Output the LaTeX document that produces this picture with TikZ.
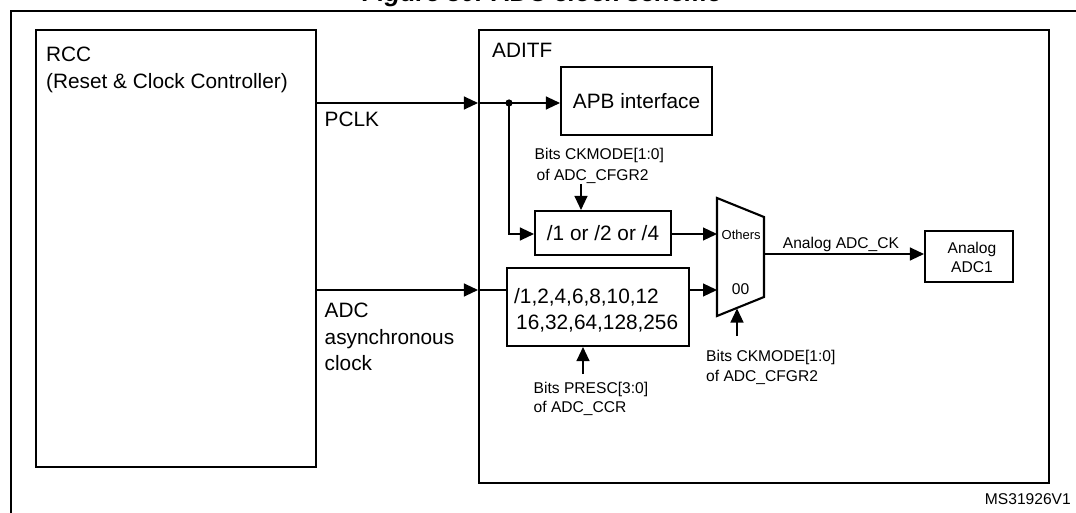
\documentclass[tikz,border=0pt]{standalone}
\usepackage{fontspec}
\setmainfont{Liberation Sans}
\usetikzlibrary{arrows.meta}
\begin{document}
\begin{tikzpicture}[x=1pt,y=-1pt,
  box/.style={draw,line width=2.1pt,inner sep=0pt},
  big/.style={font=\fontsize{20.8}{25}\selectfont,inner sep=0pt},
  small/.style={font=\fontsize{15.6}{19}\selectfont,inner sep=0pt},
  tiny/.style={font=\fontsize{13}{16}\selectfont,inner sep=0pt},
  conn/.style={line width=1.2pt,-{Triangle[length=14pt,width=13pt]}},
  wire/.style={line width=1.2pt},
  ]
\useasboundingbox (0,0) rectangle (1076,513);
% title (cut by the page edge, as in the reference)
\node[anchor=base,inner sep=0pt,font=\bfseries\itshape\fontsize{25.5}{30}\selectfont] (title) at (542,2) {Figure 30. ADC clock scheme};
% outer frame
\draw[line width=2pt] (11,513) -- (11,11) -- (1076,11);

% boxes
\node[box,minimum width=280pt,minimum height=437pt] (rcc) at (176,248.5) {};
\node[box,minimum width=570pt,minimum height=453pt] (aditf) at (764,256.5) {};
\node[box,minimum width=151pt,minimum height=68pt,big] (apb) at (636.5,101) {APB interface};
\node[box,minimum width=136pt,minimum height=44pt,big] (div) at (603,233) {/1 or /2 or /4};
\node[box,minimum width=182pt,minimum height=78pt] (presc) at (598,307) {};
\node[box,minimum width=88pt,minimum height=51pt] (adc1) at (969,256.5) {};

% multiplexer
\coordinate (mtl) at (717,198);
\coordinate (mtr) at (764,217);
\coordinate (mbr) at (764,297);
\coordinate (mbl) at (717,316);
\draw[line width=2.1pt,line join=miter] (mtl) -- (mtr) -- (mbr) -- (mbl) -- cycle;
\coordinate (muxin1) at (717,234);
\coordinate (muxin2) at (717,290);
\coordinate (muxout) at (764,254);
\coordinate (muxsel) at (737,308.5);

% texts
\node[big,anchor=base west] (rcct1) at (46,61.7) {RCC};
\node[big,anchor=base west] (rcct2) at (46,88.3) {(Reset \& Clock Controller)};
\node[big,anchor=base west] (aditft) at (492,57.7) {ADITF};
\node[big,anchor=base west] (pclkt) at (324.5,126.3) {PCLK};
\node[big,anchor=base west] (adct1) at (324.5,317.7) {ADC};
\node[big,anchor=base west] (adct2) at (324.5,344.3) {asynchronous};
\node[big,anchor=base west] (adct3) at (324.5,370.9) {clock};
\node[big,anchor=base west] (prt1) at (514,303.3) {/1,2,4,6,8,10,12};
\node[big,anchor=base west] (prt2) at (516,329.3) {16,32,64,128,256};
\node[small,anchor=base west] (ck1a) at (534.5,159.3) {Bits CKMODE[1:0]};
\node[small,anchor=base west] (ck1b) at (536.5,180.5) {of ADC\_CFGR2};
\node[small,anchor=base west] (psa) at (533.5,393.3) {Bits PRESC[3:0]};
\node[small,anchor=base west] (psb) at (533.5,412.7) {of ADC\_CCR};
\node[small,anchor=base west] (ck2a) at (706,361) {Bits CKMODE[1:0]};
\node[small,anchor=base west] (ck2b) at (706,381) {of ADC\_CFGR2};
\node[tiny,anchor=base west] (others) at (721.5,239.3) {Others};
\node[small,anchor=base] (zz) at (740.5,294) {00};
\node[small,anchor=base] (ckt) at (841,248.3) {Analog ADC\_CK};
\node[small,anchor=base] (adc1a) at (972,253) {Analog};
\node[small,anchor=base] (adc1b) at (972,272.3) {ADC1};
\node[small,anchor=base east] (ref) at (1071,504.5) {MS31926V1};

% signal rows
\coordinate (pclkrow) at (0,103);
\coordinate (adcrow) at (0,290);
\coordinate (split) at (509,103);
\coordinate (ck1arrow) at (581,184);
\coordinate (psarrow) at (583,374);
\coordinate (ck2arrow) at (737,336);

% connectors
\draw[conn] (rcc.east |- pclkrow) -- (aditf.west |- pclkrow);
\draw[conn] (aditf.west |- pclkrow) -- (apb.west |- pclkrow);
\fill (split) circle (3.6pt);
\draw[conn] (split) |- (div.west |- muxin1);
\draw[conn] (ck1arrow) -- (ck1arrow |- div.north);
\draw[conn] (div.east |- muxin1) -- (muxin1);
\draw[conn] (rcc.east |- adcrow) -- (aditf.west |- adcrow);
\draw[wire] (aditf.west |- adcrow) -- (presc.west |- adcrow);
\draw[conn] (presc.east |- adcrow) -- (muxin2);
\draw[conn] (psarrow) -- (psarrow |- presc.south);
\draw[conn] (ck2arrow) -- (muxsel);
\draw[conn] (muxout) -- (adc1.west |- muxout);
\end{tikzpicture}
\end{document}
